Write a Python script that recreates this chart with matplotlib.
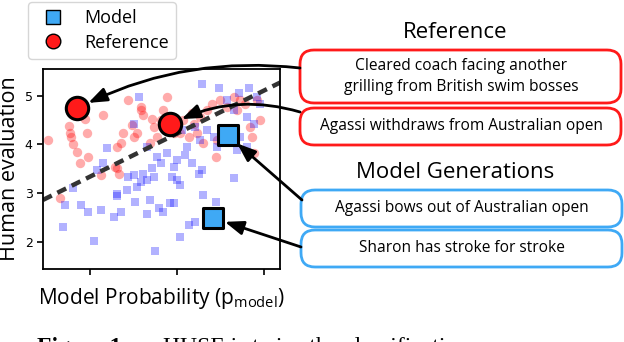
import numpy as np
import matplotlib
matplotlib.use("Agg")
import matplotlib.pyplot as plt
from matplotlib.patches import FancyBboxPatch
from matplotlib.lines import Line2D

# Данные (значения)
ref_x = [0.52, 0.76, 0.77, 0.78, 0.80, 0.85, 0.89, 0.94, 0.97, 0.98, 1.15, 1.33, 1.29,
         1.35, 1.38, 1.44, 1.48, 1.50, 1.54, 1.58, 1.59, 1.61, 1.69, 1.71, 1.73, 1.77,
         1.81, 1.84, 1.88, 1.90, 1.96, 2.03, 2.07, 2.13, 2.17, 2.19, 2.23, 2.26, 2.30,
         2.34, 2.40, 2.44, 2.46, 2.49, 2.57, 2.65, 2.69, 2.72, 2.78, 2.84, 2.86, 2.88,
         2.92, 2.95, 0.66, 1.31, 1.13, 1.31]
ref_y = [4.09, 4.38, 4.23, 4.16, 4.01, 3.85, 3.61, 4.53, 4.23, 3.75, 4.60, 3.40, 3.54,
         4.02, 4.23, 4.91, 4.40, 4.16, 4.23, 4.71, 4.77, 4.60, 4.02, 4.53, 4.36, 4.16,
         4.50, 4.71, 4.98, 4.36, 4.23, 4.23, 4.50, 4.16, 4.64, 4.43, 4.23, 4.57, 4.02,
         4.71, 4.84, 3.75, 4.09, 4.91, 4.77, 4.98, 4.71, 4.91, 4.84, 4.36, 4.16, 3.82,
         4.91, 4.50, 2.89, 3.95, 3.37, 3.51]

mod_x = [2.28, 2.48, 2.82, 2.57, 2.71, 2.92, 2.95, 2.65, 2.80, 2.88, 2.72, 2.80, 2.69,
         2.34, 2.42, 2.46, 2.26, 2.21, 2.05, 2.11, 2.09, 2.17, 2.25, 2.28, 2.00, 1.96,
         1.94, 2.00, 2.03, 1.77, 1.81, 1.73, 1.65, 1.61, 1.58, 1.54, 1.44, 1.50, 1.56,
         1.50, 1.19, 1.15, 1.08, 1.42, 1.31, 1.31, 1.52, 1.36, 1.27, 1.12, 0.98, 0.90,
         0.71, 0.69, 1.04, 1.65, 1.69, 1.79, 1.84, 1.92, 1.96, 2.03, 1.75, 2.13, 2.21,
         2.30, 2.44, 2.65, 1.65, 1.71, 1.88, 0.81]
mod_y = [5.25, 5.15, 5.15, 4.91, 5.05, 4.98, 4.84, 4.71, 4.57, 4.43, 4.16, 3.95, 3.88,
         4.30, 4.16, 3.95, 4.09, 4.36, 4.30, 3.95, 3.78, 3.61, 3.40, 3.47, 3.68, 3.54,
         3.34, 3.27, 3.16, 3.75, 3.61, 3.34, 3.27, 3.40, 3.23, 3.13, 3.34, 3.37, 4.98,
         4.43, 3.92, 3.61, 3.47, 3.06, 2.99, 2.93, 2.82, 2.62, 2.51, 2.65, 2.62, 2.75,
         2.75, 2.31, 2.02, 2.58, 2.86, 2.69, 2.62, 2.79, 2.79, 2.10, 1.80, 2.34, 2.41,
         2.96, 2.82, 3.30, 3.95, 3.51, 3.82, 3.10]

big_ref_x = [0.85, 1.92]
big_ref_y = [4.74, 4.41]
big_mod_x = [2.58, 2.41]
big_mod_y = [4.19, 2.49]

trend_x = [0.46, 3.18]
trend_y = [2.86, 5.27]

ref_texts = ["Cleared coach facing another\ngrilling from British swim bosses",
             "Agassi withdraws from Australian open"]
mod_texts = ["Agassi bows out of Australian open",
             "Sharon has stroke for stroke"]

FONT = "Open Sans"
RED = "#ff1a1a"
BLUE = "#3fa9f5"

fig = plt.figure(figsize=(6.24, 3.42), dpi=100)
ax = fig.add_axes([43/624, 1-269/342, 237/624, 200/342])

ax.scatter(ref_x, ref_y, s=46, color="red", alpha=0.33, linewidths=0)
ax.scatter(mod_x, mod_y, s=38, marker="s", color="blue", alpha=0.3, linewidths=0)
ax.plot(trend_x, trend_y, color="#333333", lw=3.2, dashes=(2.2, 1.4))
ax.scatter(big_ref_x, big_ref_y, s=260, color=RED, edgecolors="black", linewidths=2.2, zorder=5)
ax.scatter(big_mod_x, big_mod_y, s=210, marker="s", color=BLUE, edgecolors="black", linewidths=2.2, zorder=5)

ax.set_xlim(0.46, 3.18)
ax.set_ylim(1.44, 5.55)
ax.set_xticks([1, 2, 3])
ax.set_xticklabels([])
ax.set_yticks([2, 3, 4, 5])
ax.tick_params(labelsize=9, length=4, width=1.2)
for s in ax.spines.values():
    s.set_linewidth(1.3)
ax.set_xlabel("Model Probability (p$_{\\mathregular{model}}$)", fontsize=15, family=FONT, labelpad=5)
ax.set_ylabel("Human evaluation", fontsize=15.5, family=FONT, labelpad=3)

# легенда
h = [Line2D([], [], marker="s", ls="", color=BLUE, mec="black", ms=9.5, label="Model"),
     Line2D([], [], marker="o", ls="", color=RED, mec="black", ms=10.5, label="Reference")]
fig.legend(handles=h, loc="upper left", bbox_to_anchor=(28/624, 1-2/342), borderaxespad=0,
           prop={"family": FONT, "size": 13}, handletextpad=0.7, labelspacing=0.35)

# верхний слой в пикселях
ov = fig.add_axes([0, 0, 1, 1], zorder=10)
ov.set_xlim(0, 624)
ov.set_ylim(342, 0)
ov.axis("off")
ov.patch.set_alpha(0)

ov.text(455, 32, "Reference", ha="center", va="center", fontsize=16, family=FONT)
ov.text(455, 172, "Model Generations", ha="center", va="center", fontsize=16, family=FONT)

boxes = [(300, 50, 53, ref_texts[0], RED), (300, 108, 37, ref_texts[1], RED),
         (301, 190, 37, mod_texts[0], BLUE), (301, 230, 37, mod_texts[1], BLUE)]
for x0, y0, hh, t, c in boxes:
    ov.add_patch(FancyBboxPatch((x0, y0), 321, hh, boxstyle="round,pad=0,rounding_size=14",
                                fc="white", ec=c, lw=2))
    ov.text(x0 + 161, y0 + hh/2, t, ha="center", va="center", fontsize=11.2, family=FONT,
            linespacing=1.35)

# стрелки
arrows = [((big_ref_x[0], big_ref_y[0]), (300, 68), 0.15),
          ((big_ref_x[1], big_ref_y[1]), (300, 112), 0.2),
          ((big_mod_x[0], big_mod_y[0]), (302, 200), 0.0),
          ((big_mod_x[1], big_mod_y[1]), (301, 247), 0.0)]
for xy, xyt, rad in arrows:
    ov.annotate("", xy=xy, xycoords=ax.transData, xytext=xyt, textcoords="data",
                arrowprops=dict(arrowstyle="-|>,head_length=0.8,head_width=0.3", color="black",
                                lw=2, mutation_scale=14, shrinkA=0, shrinkB=9,
                                connectionstyle=f"arc3,rad={rad}"))

# подпись (обрезана снизу)
fig.text(37/624, -11/342, "Figure 1:", fontsize=17, weight="bold", family="Liberation Serif")
fig.text(163/624, -11/342, "HUSE is twice the classification", fontsize=17, family="Liberation Serif")

fig.savefig("out.png", dpi=100)
